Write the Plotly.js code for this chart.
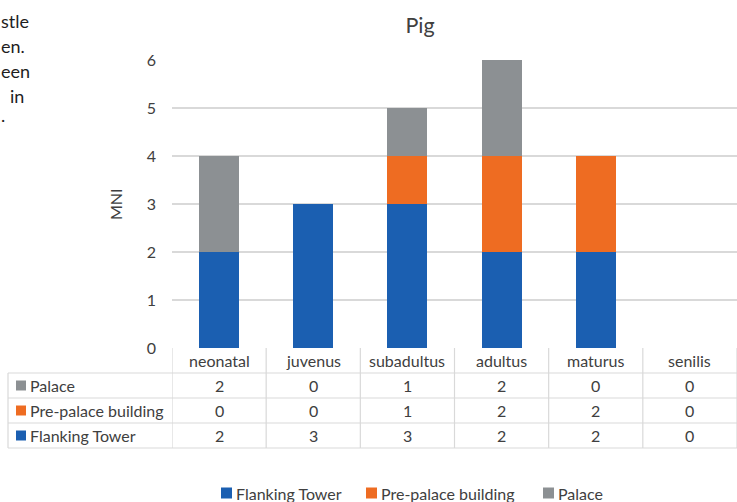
<!DOCTYPE html>
<html><head><meta charset="utf-8">
<script src="https://cdn.plot.ly/plotly-3.0.1.min.js"></script>
<style>html,body{margin:0;padding:0;background:#fff}#chart{width:737px;height:502px}</style>
</head><body><div id="chart"></div>
<script>
const categories = ['neonatal','juvenus','subadultus','adultus','maturus','senilis'];
const flankingTower = [2,3,3,2,2,0];
const prePalace = [0,0,1,2,2,0];
const palace = [2,0,1,2,0,0];
const seriesNames = ['Flanking Tower','Pre-palace building','Palace'];
const yTicks = [0,1,2,3,4,5,6];
const sideText = ['stle','en.','een','in','.'];

const colors = ['#1B5FB1','#EE6C22','#8C9093'];
const FONT = 'Lato, "Open Sans", sans-serif';
const TXT = '#404040';
const GRID = '#D9D9D9';
const FS = 16;

// pixel geometry helpers (plot area: x 172..737, y 60..348)
const PL = 172, PT = 60, PW = 565, PH = 288;
const py = p => (PT + PH - p) / PH;   // pixel y -> paper y
const px = p => (p - PL) / PW;        // pixel x -> paper x

const xIdx = categories.map((c,i)=>i);
const traces = [flankingTower, prePalace, palace].map((vals,k)=>({
  type:'bar', x:xIdx, y:vals, name:seriesNames[k],
  marker:{color:colors[k], line:{width:0}},
  hoverinfo:'skip'
}));

const shapes = [];
const annotations = [];
function square(xl, yc, k, size){
  shapes.push({type:'rect', xref:'paper', yref:'paper', x0:px(xl), x1:px(xl+size), y0:py(yc+size/2), y1:py(yc-size/2),
    fillcolor:colors[k], line:{width:0}});
}
// table geometry
const rowLines = [348,373,398,423,448];
const tableLeft = 8;
for (let r=1;r<rowLines.length;r++){
  shapes.push({type:'line', xref:'paper', yref:'paper', x0:px(tableLeft), x1:1, y0:py(rowLines[r]), y1:py(rowLines[r]), line:{color:GRID,width:1.2}});
}
for (let i=0;i<=categories.length;i++){
  shapes.push({type:'line', xref:'x', yref:'paper', x0:i-0.5, x1:i-0.5, y0:py(348), y1:py(448), line:{color:GRID,width:1.2}});
}
shapes.push({type:'line', xref:'paper', yref:'paper', x0:px(tableLeft), x1:px(tableLeft), y0:py(373), y1:py(448), line:{color:GRID,width:1.2}});

// header row: categories
categories.forEach((c,i)=>annotations.push({xref:'x', yref:'paper', x:i, y:py(360.5), text:c, showarrow:false, font:{family:FONT,size:FS,color:TXT}, xanchor:'center', yanchor:'middle'}));
// data rows (Palace, Pre-palace, Flanking)
const tableRows = [[palace,2],[prePalace,1],[flankingTower,0]];
tableRows.forEach(([vals,k],r)=>{
  const yc = 385.5 + 25*r;
  square(16, yc, k, 10);
  annotations.push({xref:'paper', yref:'paper', x:px(28), y:py(yc), xanchor:'left', yanchor:'middle', showarrow:false,
    text:seriesNames[k], font:{family:FONT,size:FS,color:TXT}});
  vals.forEach((v,i)=>annotations.push({xref:'x', yref:'paper', x:i, y:py(yc), text:String(v), showarrow:false, font:{family:FONT,size:FS,color:TXT}, xanchor:'center', yanchor:'middle'}));
});
// legend (bottom)
const legendX = [221, 366, 543];
seriesNames.forEach((n,k)=>{
  square(legendX[k], 493, k, 11);
  annotations.push({xref:'paper', yref:'paper', x:px(legendX[k]+13), y:py(493), xanchor:'left', yanchor:'middle', showarrow:false,
    text:n, font:{family:FONT,size:FS,color:TXT}});
});
// y axis title
annotations.push({xref:'paper', yref:'paper', x:px(115), y:py(204), text:'MNI', textangle:-90, showarrow:false, font:{family:FONT,size:FS,color:TXT}, xanchor:'center', yanchor:'middle'});
// side text fragments
const sideY = [21,46,71,96,115];
const sideX = [0,0,0,25,0];
const sideAnchor = ['left','left','left','right','left'];
sideText.forEach((t,i)=>annotations.push({xref:'paper', yref:'paper', x:px(sideX[i]), y:py(sideY[i]), text:t, showarrow:false, xanchor:sideAnchor[i], yanchor:'middle', borderpad:0, font:{family:FONT,size:18,color:'#1e1e1e'}}));

const layout = {
  width:737, height:502,
  margin:{l:PL, r:0, t:PT, b:502-PT-PH, pad:0},
  paper_bgcolor:'#fff', plot_bgcolor:'#fff',
  barmode:'stack', bargap:0.575,
  font:{family:FONT, color:TXT},
  title:{text:'Pig', x:px(420), xref:'paper', xanchor:'center', y:1-25/502, yanchor:'middle', font:{family:FONT,size:21.5,color:TXT}},
  xaxis:{range:[-0.5,categories.length-0.5], showticklabels:false, showgrid:false, zeroline:false, showline:false, ticks:'', fixedrange:true},
  yaxis:{range:[0,6], tickvals:yTicks, showgrid:true, gridcolor:GRID, gridwidth:1.2, zeroline:false, showline:false, ticks:'',
         tickfont:{family:FONT,size:FS,color:TXT}, ticklabelstandoff:15, fixedrange:true},
  showlegend:false,
  shapes:shapes, annotations:annotations
};
Plotly.newPlot('chart', traces, layout, {displayModeBar:false, staticPlot:true});
</script></body></html>
